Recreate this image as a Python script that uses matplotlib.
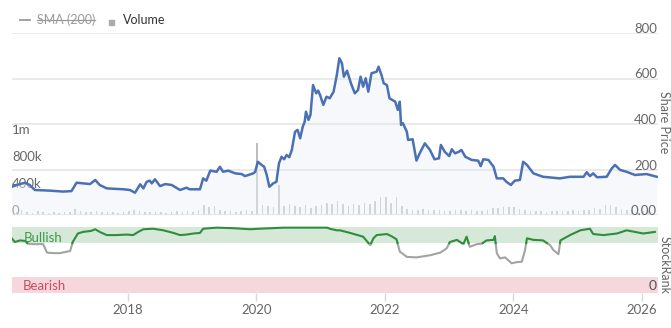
import numpy as np
import pandas as pd
import matplotlib
matplotlib.use("Agg")
import matplotlib.pyplot as plt
from matplotlib.lines import Line2D
from matplotlib.patches import Rectangle

plt.rcParams['font.family'] = ['Lato', 'DejaVu Sans']

# ---- share price (decimal year, price) ----
price_years = [
    2016.19, 2016.27, 2016.40, 2016.47, 2016.55, 2016.79, 2016.99, 2017.12, 2017.20, 2017.41,
    2017.49, 2017.56, 2017.67, 2017.93, 2018.03, 2018.11, 2018.19, 2018.24, 2018.29, 2018.34,
    2018.37, 2018.42, 2018.50, 2018.58, 2018.68, 2018.81, 2018.91, 2018.96, 2019.12, 2019.17,
    2019.22, 2019.28, 2019.38, 2019.43, 2019.48, 2019.56, 2019.67, 2019.77, 2019.82, 2019.95,
    2019.98, 2020.02, 2020.08, 2020.12, 2020.16, 2020.20, 2020.26, 2020.31, 2020.35, 2020.39,
    2020.43, 2020.47, 2020.51, 2020.55, 2020.60, 2020.64, 2020.68, 2020.72, 2020.75, 2020.77,
    2020.81, 2020.84, 2020.88, 2020.93, 2020.96, 2020.99, 2021.04, 2021.09, 2021.14, 2021.20,
    2021.25, 2021.29, 2021.33, 2021.36, 2021.41, 2021.47, 2021.53, 2021.58, 2021.62, 2021.66,
    2021.70, 2021.74, 2021.79, 2021.87, 2021.90, 2021.95, 2021.98, 2022.03, 2022.07, 2022.16,
    2022.20, 2022.23, 2022.25, 2022.28, 2022.34, 2022.36, 2022.43, 2022.49, 2022.54, 2022.62,
    2022.70, 2022.77, 2022.84, 2022.87, 2022.93, 2023.00, 2023.04, 2023.09, 2023.15, 2023.19,
    2023.25, 2023.35, 2023.45, 2023.49, 2023.53, 2023.61, 2023.69, 2023.74, 2023.84, 2023.89,
    2023.96, 2024.02, 2024.10, 2024.15, 2024.21, 2024.31, 2024.46, 2024.72, 2024.88, 2025.09,
    2025.14, 2025.19, 2025.24, 2025.30, 2025.45, 2025.53, 2025.58, 2025.66, 2025.76, 2025.89,
    2026.07, 2026.23,
]
price_values = [
    124, 132, 142, 132, 110, 107, 103, 105, 142, 136,
    154, 132, 117, 113, 110, 98, 135, 117, 146, 151,
    139, 157, 127, 136, 132, 110, 120, 113, 113, 161,
    151, 195, 190, 212, 190, 195, 183, 180, 171, 183,
    190, 234, 220, 212, 176, 124, 139, 146, 227, 256,
    245, 264, 254, 286, 366, 374, 337, 388, 410, 454,
    418, 440, 571, 535, 547, 527, 484, 520, 513, 542,
    615, 689, 667, 608, 634, 579, 535, 549, 608, 564,
    601, 542, 623, 630, 652, 611, 579, 571, 513, 498,
    462, 498, 396, 403, 366, 330, 333, 239, 271, 315,
    286, 245, 249, 308, 278, 259, 289, 271, 278, 286,
    256, 242, 239, 215, 245, 242, 212, 161, 161, 146,
    132, 151, 154, 234, 220, 183, 168, 161, 168, 168,
    188, 171, 183, 166, 168, 205, 220, 198, 190, 176,
    180, 168,
]

# ---- monthly volume (thousands of shares), March 2016 onwards ----
volume_start = "2016-03-01"
volume_k = [
    60, 45, 70, 40, 35, 55, 40, 30, 45, 35,
    40, 50, 90, 60, 45, 40, 55, 45, 50, 40, 35, 45,
    60, 70, 55, 50, 40, 45, 50, 35, 40, 55, 45, 60,
    50, 70, 150, 120, 140, 80, 60, 55, 50, 60, 70, 55,
    1070, 150, 130, 120, 445, 140, 160, 130, 120, 150, 110, 140,
    150, 180, 170, 200, 160, 140, 170, 150, 180, 160, 200, 270,
    260, 180, 260, 140, 90, 80, 70, 90, 75, 80, 70, 65,
    60, 75, 70, 60, 80, 60, 55, 70, 110, 100, 120, 125,
    115, 90, 70, 60, 55, 65, 50, 60, 55, 65, 60, 70,
    60, 70, 80, 110, 90, 145, 150, 120, 90, 80, 70, 75,
    60, 55,
]
volume_ticks = [0, 400e3, 800e3, 1.2e6]
volume_tick_labels = ["0", "400k", "800k", "1m"]

# ---- StockRank (decimal year, rank) ----
rank_years = [
    2016.19, 2016.24, 2016.32, 2016.40, 2016.44, 2016.52, 2016.68, 2016.74, 2016.86, 2016.94,
    2017.10, 2017.14, 2017.22, 2017.30, 2017.43, 2017.49, 2017.56, 2017.67, 2017.82, 2017.98,
    2018.08, 2018.16, 2018.24, 2018.39, 2018.55, 2018.71, 2018.81, 2018.91, 2019.02, 2019.12,
    2019.17, 2019.38, 2019.64, 2019.90, 2020.05, 2020.42, 2021.10, 2021.14, 2021.25, 2021.30,
    2021.46, 2021.66, 2021.77, 2021.82, 2021.87, 2022.03, 2022.10, 2022.18, 2022.23, 2022.34,
    2022.49, 2022.70, 2022.86, 2022.96, 2023.01, 2023.12, 2023.22, 2023.27, 2023.32, 2023.43,
    2023.51, 2023.58, 2023.69, 2023.71, 2023.74, 2023.79, 2023.87, 2023.97, 2024.05, 2024.13,
    2024.18, 2024.21, 2024.31, 2024.46, 2024.57, 2024.62, 2024.70, 2024.73, 2024.88, 2025.04,
    2025.19, 2025.24, 2025.40, 2025.61, 2025.76, 2026.02, 2026.20,
]
rank_values = [
    79, 72, 75, 74, 69, 68, 68, 52, 51, 51,
    55, 72, 88, 91, 93, 96, 91, 85, 85, 86,
    85, 91, 96, 97, 94, 89, 85, 86, 88, 89,
    97, 99, 98, 96, 97, 99, 99, 97, 94, 94,
    89, 82, 66, 79, 85, 87, 83, 77, 54, 44,
    43, 47, 52, 60, 72, 76, 68, 82, 63, 68,
    69, 75, 76, 83, 51, 41, 43, 32, 34, 35,
    57, 79, 76, 75, 66, 57, 49, 75, 85, 94,
    97, 87, 85, 88, 94, 88, 91,
]
bullish_threshold = 70
bullish_band = (70, 100)
bearish_band = (-24, 6)

price_ticks = [0, 200, 400, 600, 800]
price_tick_labels = ["0.00", "200", "400", "600", "800"]
year_ticks = [2018, 2020, 2022, 2024, 2026]

# ---- styling ----
W, H = 671, 328
x_range = (2016.195, 2026.249)
label_color = "#666666"
blue = "#4a70b6"
green = "#2f8d3e"
grey_line = "#a3a3a3"
fs = 9.5

fig = plt.figure(figsize=(W / 100, H / 100), dpi=100)
fig.patch.set_facecolor("white")

# price panel
ax = fig.add_axes([12 / W, 1 - 215 / H, 646 / W, 182 / H])
ax_vol = ax.twinx()
ax.set_zorder(2)
ax_vol.set_zorder(1)
ax.patch.set_visible(False)

vol_dates = pd.date_range(volume_start, periods=len(volume_k), freq="MS")
vol_years = vol_dates.year + (vol_dates.month - 1) / 12
ax_vol.bar(vol_years, np.array(volume_k) * 1e3, width=0.025, color="#bdbdbd",
           align="edge", linewidth=0)
ax_vol.set_ylim(0, 2.696e6)

ax.fill_between(price_years, price_values, 0, color="#edf1f8", alpha=0.45, linewidth=0)
ax.plot(price_years, price_values, color=blue, lw=1.8, solid_joinstyle="round")
ax.set_ylim(0, 800)
ax.set_xlim(*x_range)
ax_vol.set_xlim(*x_range)
ax.set_yticks(price_ticks)
ax.grid(axis="y", color="#e6e6e6", lw=1.2)
ax.tick_params(left=False, right=False, bottom=False, labelleft=False,
               labelright=False, labelbottom=False)
ax_vol.tick_params(left=False, right=False, bottom=False, labelleft=False,
                   labelright=False, labelbottom=False)
for a in (ax, ax_vol):
    for s in a.spines.values():
        s.set_visible(False)

for v, lab in zip(price_ticks, price_tick_labels):
    ax.text(0.9985, v, lab, transform=ax.get_yaxis_transform(), ha="right",
            va="baseline", fontsize=fs, color=label_color, clip_on=False)
for v, lab in zip(volume_ticks, volume_tick_labels):
    ax_vol.text(0.0, v, lab, transform=ax_vol.get_yaxis_transform(), ha="left",
                va="baseline", fontsize=fs, color=label_color, clip_on=False)

# StockRank panel
axr = fig.add_axes([12 / W, 1 - 293 / H, 646 / W, 68 / H])
axr.set_xlim(*x_range)
axr.set_ylim(bearish_band[0], 104)
axr.axhspan(*bullish_band, color="#d6e8d8", lw=0, zorder=0)
axr.axhspan(*bearish_band, color="#f6d7dc", lw=0, zorder=0)

# split the rank line at the bullish threshold
ry, rv = [rank_years[0]], [rank_values[0]]
for i in range(1, len(rank_years)):
    x0, y0, x1, y1 = rank_years[i - 1], rank_values[i - 1], rank_years[i], rank_values[i]
    if (y0 - bullish_threshold) * (y1 - bullish_threshold) < 0:
        t = (bullish_threshold - y0) / (y1 - y0)
        ry.append(x0 + t * (x1 - x0))
        rv.append(bullish_threshold)
    ry.append(x1)
    rv.append(y1)
ry = np.array(ry)
rv = np.array(rv, dtype=float)
axr.plot(ry, np.ma.masked_where(rv > bullish_threshold, rv), color=grey_line, lw=1.5, zorder=2)
axr.plot(ry, np.ma.masked_where(rv < bullish_threshold, rv), color=green, lw=1.5, zorder=3)

axr.text(0.0186, 0.81, "Bullish", transform=axr.transAxes, ha="left", va="center",
         fontsize=fs, color="#3c9a4e", zorder=4)
axr.text(0.017, 0.10, "Bearish", transform=axr.transAxes, ha="left", va="center",
         fontsize=fs, color="#d24a62", zorder=4)
axr.text(0.9985, 0.11, "0", transform=axr.transAxes, ha="right", va="center",
         fontsize=fs + 0.5, color="#555555", zorder=4)

axr.set_yticks([])
axr.set_xticks(year_ticks)
axr.set_xticklabels([str(y) for y in year_ticks])
axr.tick_params(axis="x", length=6, width=1, color="#d8d8d8", pad=2,
                labelsize=fs, labelcolor=label_color)
for s in axr.spines.values():
    s.set_visible(False)

# axis titles on the right
fig.text(664.5 / W, 1 - 122 / H, "Share Price", rotation=270, ha="center", va="center",
         fontsize=9, color=label_color)
fig.text(664.5 / W, 1 - 265 / H, "StockRank", rotation=270, ha="center", va="center",
         fontsize=9, color=label_color)

# legend
fig.add_artist(Line2D([20 / W, 30 / W], [1 - 20 / H, 1 - 20 / H], color="#9a9a9a", lw=1.3,
                      transform=fig.transFigure))
sma = fig.text(37 / W, 1 - 20 / H, "SMA (200)", ha="left", va="center", fontsize=9,
               color="#9a9a9a")
fig.add_artist(Rectangle((109 / W, 1 - 25 / H), 5 / W, 5 / H, color="#aaaaaa",
                         transform=fig.transFigure))
fig.text(123 / W, 1 - 20 / H, "Volume", ha="left", va="center", fontsize=9, color="#333333")

fig.canvas.draw()
bb = sma.get_window_extent(fig.canvas.get_renderer())
ymid = (bb.y0 + bb.y1) / 2
fig.add_artist(Line2D([bb.x0 / W, bb.x1 / W], [ymid / H, ymid / H], color="#9a9a9a", lw=0.9,
                      transform=fig.transFigure))

fig.savefig("out.png", dpi=100, facecolor="white")
